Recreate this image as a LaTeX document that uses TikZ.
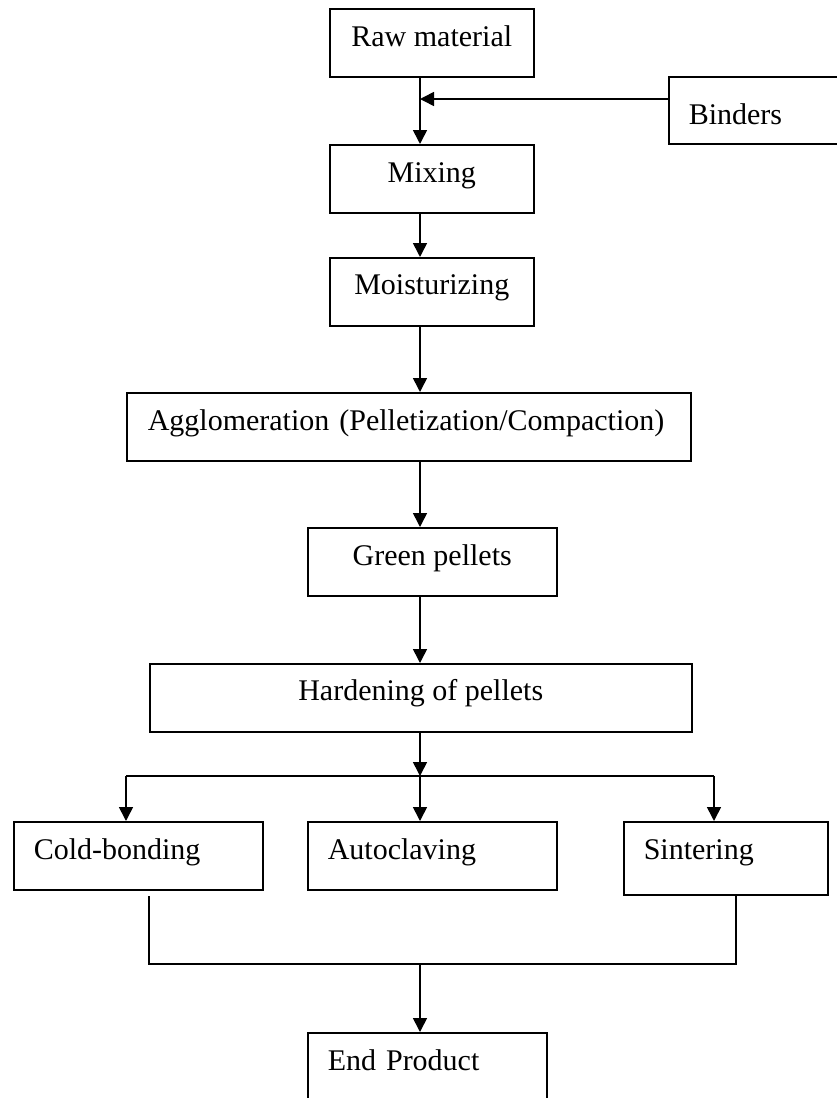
\documentclass[tikz,border=0pt]{standalone}
\usepackage{fontspec}
\setmainfont{Liberation Serif}
\usetikzlibrary{arrows.meta}
\begin{document}
\begin{tikzpicture}[x=1pt,y=-1pt,
  boxbase/.style={draw, line width=1.5pt, inner ysep=0pt, font=\fontsize{30}{36}\selectfont, anchor=north west},
  cbox/.style={boxbase, inner xsep=0pt},
  lbox/.style={boxbase, inner xsep=20pt, align=left},
  arr/.style={line width=1.6pt, -{Triangle[length=14pt,width=14pt]}},
  ln/.style={line width=1.6pt}]
\useasboundingbox (0,0) rectangle (837,1098);
\clip (0,0) rectangle (837,1098);

\node[cbox, minimum width=204pt, text height=38pt, text depth=30pt] (raw) at (329,8) {Raw material};
\node[lbox, text width=137pt, text height=48pt, text depth=19pt] (bind) at (668,76) {Binders};
\node[cbox, minimum width=204pt, text height=38pt, text depth=30pt] (mix) at (329,144) {Mixing};
\node[cbox, minimum width=204pt, text height=37pt, text depth=31pt] (moist) at (329,257) {Moisturizing};
\node[lbox, inner xsep=21pt, text width=522pt, text height=38pt, text depth=30pt] (agglo) at (126,392) {Agglomeration (Pelletization/Compaction)};
\node[cbox, minimum width=249pt, text height=38pt, text depth=30pt] (green) at (307,527) {Green pellets};
\node[cbox, minimum width=542pt, text height=37pt, text depth=31pt] (hard) at (149,663) {Hardening of pellets};
\node[lbox, text width=209pt, text height=38pt, text depth=30pt] (cold) at (13,821) {Cold-bonding};
\node[lbox, text width=209pt, text height=38pt, text depth=30pt] (auto) at (307,821) {Autoclaving};
\node[lbox, text width=164pt, text height=38pt, text depth=35pt] (sint) at (623,821) {Sintering};
\node[lbox, text width=199pt, text height=38pt, text depth=40pt] (endp) at (307,1032) {End Product};

\coordinate (cx) at (420,0);
\coordinate (bj) at (420,99);
\draw[arr] (raw.south -| cx) -- (mix.north -| cx);
\draw[arr] (bind.west |- bj) -- (bj);
\draw[arr] (mix.south -| cx) -- (moist.north -| cx);
\draw[arr] (moist.south -| cx) -- (agglo.north -| cx);
\draw[arr] (agglo.south -| cx) -- (green.north -| cx);
\draw[arr] (green.south -| cx) -- (hard.north -| cx);

\coordinate (split) at (420,776);
\coordinate (sl) at (126,776);
\coordinate (sr) at (714,776);
\draw[arr] (hard.south -| cx) -- (split);
\draw[ln] (sl) -- (sr);
\draw[arr] (sl) -- (cold.north -| sl);
\draw[arr] (split) -- (auto.north -| split);
\draw[arr] (sr) -- (sint.north -| sr);

\coordinate (cl) at (149,896);
\coordinate (cr) at (736,896);
\coordinate (ml) at (149,964);
\coordinate (mr) at (736,964);
\coordinate (mj) at (420,964);
\draw[ln] (cl) -- (ml) -- (mr) -- (cr);
\draw[arr] (mj) -- (endp.north -| mj);
\end{tikzpicture}
\end{document}
